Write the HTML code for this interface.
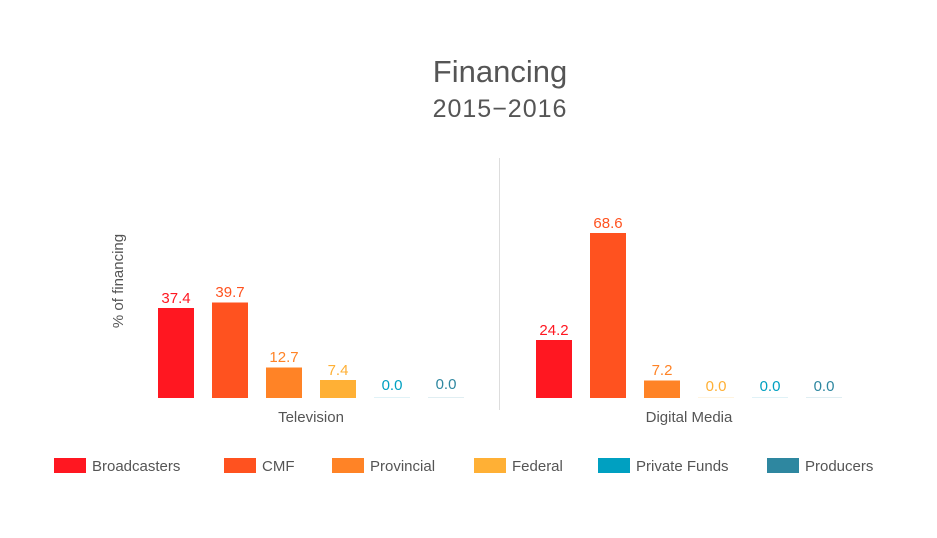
<!DOCTYPE html>
<html><head><style>
body{margin:0;background:#fff;font-family:"Liberation Sans",Arial,sans-serif;}
</style></head><body>
<svg width="937" height="533" xmlns="http://www.w3.org/2000/svg" font-family="Liberation Sans, Arial, sans-serif">
<rect width="937" height="533" fill="#fff"/>
<text x="500" y="82" text-anchor="middle" font-size="31" fill="#555">Financing</text>
<text x="500" y="117" text-anchor="middle" font-size="25" fill="#555" letter-spacing="1">2015−2016</text>
<line x1="499.5" y1="158" x2="499.5" y2="410" stroke="#ddd" stroke-width="1"/>
<text transform="translate(123,281) rotate(-90)" text-anchor="middle" font-size="15" fill="#555">% of financing</text>
<g font-size="15" text-anchor="middle">
<rect x="158" y="308" width="36" height="90" fill="#ff1721"/><text x="176" y="303" fill="#ff1721">37.4</text>
<rect x="212" y="302.5" width="36" height="95.5" fill="#ff521f"/><text x="230" y="297" fill="#ff521f">39.7</text>
<rect x="266" y="367.5" width="36" height="30.5" fill="#ff8326"/><text x="284" y="362" fill="#ff8326">12.7</text>
<rect x="320" y="380" width="36" height="18" fill="#ffb035"/><text x="338" y="375" fill="#ffb035">7.4</text>
<rect x="374" y="397" width="36" height="1" fill="#e0f2f7"/><text x="392" y="390" fill="#00a0c1">0.0</text>
<rect x="428" y="397" width="36" height="1" fill="#e0eef2"/><text x="446" y="389" fill="#2e87a0">0.0</text>
<rect x="536" y="340" width="36" height="58" fill="#ff1721"/><text x="554" y="335" fill="#ff1721">24.2</text>
<rect x="590" y="233" width="36" height="165" fill="#ff521f"/><text x="608" y="228" fill="#ff521f">68.6</text>
<rect x="644" y="380.5" width="36" height="17.5" fill="#ff8326"/><text x="662" y="375" fill="#ff8326">7.2</text>
<rect x="698" y="397" width="36" height="1" fill="#fff4e0"/><text x="716" y="391" fill="#ffb035">0.0</text>
<rect x="752" y="397" width="36" height="1" fill="#e0f2f7"/><text x="770" y="391" fill="#00a0c1">0.0</text>
<rect x="806" y="397" width="36" height="1" fill="#e0eef2"/><text x="824" y="391" fill="#2e87a0">0.0</text>
<text x="311" y="422" fill="#555">Television</text>
<text x="689" y="422" fill="#555">Digital Media</text>
</g>
<g font-size="15" fill="#555">
<rect x="54" y="458" width="32" height="15" fill="#ff1721"/><text x="92" y="471">Broadcasters</text>
<rect x="224" y="458" width="32" height="15" fill="#ff521f"/><text x="262" y="471">CMF</text>
<rect x="332" y="458" width="32" height="15" fill="#ff8326"/><text x="370" y="471">Provincial</text>
<rect x="474" y="458" width="32" height="15" fill="#ffb035"/><text x="512" y="471">Federal</text>
<rect x="598" y="458" width="32" height="15" fill="#00a0c1"/><text x="636" y="471">Private Funds</text>
<rect x="767" y="458" width="32" height="15" fill="#2e87a0"/><text x="805" y="471">Producers</text>
</g>
</svg>
</body></html>
